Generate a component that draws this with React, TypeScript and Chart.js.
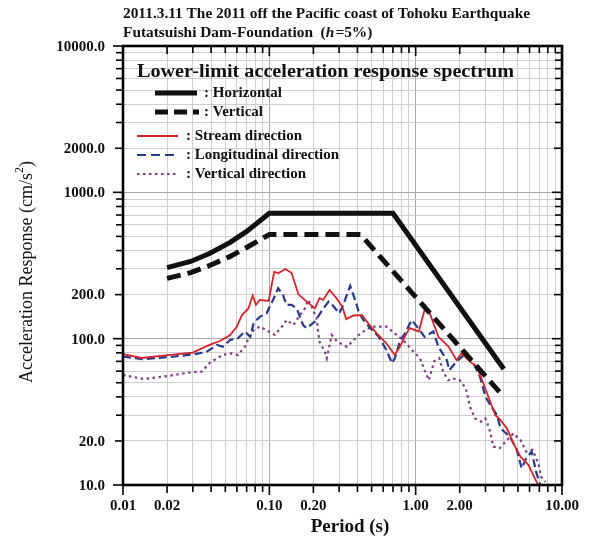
import { useEffect, useRef } from "react";
import { Chart, registerables } from "chart.js";
Chart.register(...registerables);

// ---------- text ----------
const TITLE_LINE1 = "2011.3.11 The 2011 off the Pacific coast of Tohoku Earthquake";
const TITLE_LINE2_A = "Futatsuishi Dam-Foundation  (";
const TITLE_LINE2_H = "h";
const TITLE_LINE2_B = "=5%)";
const LEGEND_TITLE = "Lower-limit acceleration response spectrum";
const X_TITLE = "Period (s)";
const Y_TITLE = "Acceleration Response (cm/s";

// ---------- ticks ----------
const xTickValues = [0.01, 0.02, 0.1, 0.2, 1, 2, 10];
const xTickLabels = ["0.01", "0.02", "0.10", "0.20", "1.00", "2.00", "10.00"];
const yTickValues = [10, 20, 100, 200, 1000, 2000, 10000];
const yTickLabels = ["10.0", "20.0", "100.0", "200.0", "1000.0", "2000.0", "10000.0"];
const xDecades = [0.01, 0.1, 1];
const yDecades = [10, 100, 1000];
const minorSteps = [1, 2, 3, 4, 5, 6, 7, 8, 9];

// ---------- lower-limit spectra ----------
const horizPeriods = [0.02, 0.029, 0.039, 0.054, 0.07, 0.1, 0.7, 4.0];
const horizValues = [306, 337, 382, 455, 541, 720, 720, 62];
const vertPeriods = [0.02, 0.029, 0.039, 0.054, 0.07, 0.1, 0.42, 4.0];
const vertValues = [258, 283, 316, 365, 420, 515, 515, 40];

// ---------- observed spectra ----------
const streamPeriods = [0.01, 0.0134, 0.021, 0.03, 0.039, 0.046, 0.054, 0.06, 0.065, 0.072, 0.077, 0.081, 0.086, 0.099, 0.108, 0.115, 0.129, 0.142, 0.158, 0.18, 0.205, 0.22, 0.233, 0.258, 0.288, 0.315, 0.335, 0.376, 0.43, 0.475, 0.54, 0.63, 0.72, 0.78, 0.85, 0.91, 1.05, 1.17, 1.25, 1.43, 1.55, 1.68, 1.9, 2.06, 2.35, 2.62, 2.9, 3.2, 3.5, 3.7, 4.2, 4.65, 5.2, 5.9, 6.7, 7.0];
const streamValues = [78.5, 73.8, 77.4, 80.2, 90.6, 96.4, 106, 121, 145, 161, 197, 170, 184, 181, 287, 280, 299, 281, 201, 179, 161, 189, 184, 215, 189, 166, 136, 144, 145, 127, 109, 93, 77.4, 88, 105, 118, 112, 167, 149, 103, 95.5, 88, 71.5, 79.4, 69.7, 64.4, 49.6, 38.1, 30, 28.6, 24.4, 19.3, 15.6, 13.7, 10.5, 9.5];

const longPeriods = [0.01, 0.0138, 0.021, 0.03, 0.037, 0.044, 0.048, 0.054, 0.061, 0.068, 0.074, 0.078, 0.086, 0.0957, 0.106, 0.115, 0.124, 0.131, 0.142, 0.154, 0.17, 0.18, 0.205, 0.23, 0.254, 0.27, 0.3, 0.32, 0.357, 0.39, 0.41, 0.44, 0.49, 0.56, 0.63, 0.69, 0.72, 0.78, 0.84, 0.94, 1.07, 1.15, 1.32, 1.43, 1.63, 1.7, 1.9, 2.2, 2.45, 2.75, 3.0, 3.3, 3.6, 3.8, 4.4, 4.9, 5.3, 5.7, 6.2, 6.7, 7.1];
const longValues = [75.3, 72.5, 75, 78, 81, 90.6, 88, 98, 100.6, 112, 103, 127, 141, 149, 184, 221, 199, 170, 170, 161, 124, 118, 131, 157, 179, 170, 149, 170, 230, 178, 150, 134, 118, 103, 83.7, 68, 73.5, 95.5, 108, 134, 114, 103, 112, 88, 71.5, 61, 69.7, 79, 69.7, 55, 40, 34.2, 30, 24.4, 21.4, 17.5, 13, 15.2, 16.9, 12, 10];

const vertDirPeriods = [0.01, 0.0138, 0.021, 0.029, 0.0345, 0.039, 0.044, 0.048, 0.055, 0.061, 0.068, 0.072, 0.078, 0.086, 0.096, 0.109, 0.122, 0.131, 0.146, 0.162, 0.175, 0.184, 0.195, 0.21, 0.22, 0.24, 0.247, 0.267, 0.29, 0.34, 0.42, 0.5, 0.63, 0.74, 0.82, 0.94, 1.07, 1.15, 1.23, 1.34, 1.45, 1.54, 1.67, 1.8, 2.0, 2.2, 2.35, 2.55, 2.8, 3.0, 3.2, 3.4, 3.75, 4.2, 4.65, 5.2, 5.7, 6.3, 6.9, 7.2, 7.7];
const vertDirValues = [56.5, 53, 55.9, 58.9, 59.5, 68, 73.5, 77.4, 79.4, 77.4, 88, 100, 114, 121, 114, 106, 121, 134, 124, 145, 161, 184, 165, 138, 95.5, 81, 73.5, 106, 95.5, 88, 109, 121, 121, 106, 98, 84, 73.5, 61, 52, 70, 73.5, 59.5, 52, 53.5, 52, 45.8, 34.3, 28.5, 27.1, 28.5, 23.8, 18.3, 17.8, 20.3, 22.5, 20.3, 16.9, 17.4, 14, 11.4, 10.5];

// ---------- colours ----------
const RED = "#d3232b";
const BLUE = "#27398a";
const PURPLE = "#7e3f80";
const BLACK = "#111111";

const SERIF = "'Liberation Serif', 'Times New Roman', serif";

const pts = (xs: number[], ys: number[]) => xs.map((x, i) => ({ x, y: ys[i] }));
const isDecade = (v: number) => Math.abs(Math.log10(v) - Math.round(Math.log10(v))) < 1e-6;
const gridOf = (decades: number[], last: number) => {
  const out: number[] = [];
  decades.forEach((d) => minorSteps.forEach((m) => out.push(+(d * m).toPrecision(6))));
  out.push(last);
  return out;
};
const xGrid = gridOf(xDecades, 10);
const yGrid = gridOf(yDecades, 10000);
const isLabeled = (v: number, list: number[]) => list.some((t) => Math.abs(t - v) / t < 1e-6);

function fitText(ctx: CanvasRenderingContext2D, text: string, x: number, y: number, w: number) {
  const m = ctx.measureText(text).width;
  ctx.save();
  ctx.translate(x, y);
  ctx.scale(w / m, 1);
  ctx.fillText(text, 0, 0);
  ctx.restore();
}

const decor = {
  id: "decor",
  afterDraw(chart: any) {
    const ctx: CanvasRenderingContext2D = chart.ctx;
    const { left, right, top, bottom } = chart.chartArea;
    const xs = chart.scales.x;
    const ys = chart.scales.y;
    ctx.save();
    ctx.strokeStyle = "#000";
    ctx.lineWidth = 1.6;
    const line = (a: number, b: number, c: number, d: number) => {
      ctx.beginPath();
      ctx.moveTo(a, b);
      ctx.lineTo(c, d);
      ctx.stroke();
    };
    xGrid.forEach((v) => {
      const px = xs.getPixelForValue(v);
      const L = isDecade(v) ? 10 : isLabeled(v, xTickValues) ? 8 : 7;
      line(px, bottom, px, bottom + L);
      line(px, top, px, top + L);
    });
    yGrid.forEach((v) => {
      const py = ys.getPixelForValue(v);
      const L = isDecade(v) ? 10 : isLabeled(v, yTickValues) ? 8 : 7;
      line(left - L, py, left, py);
      line(right - L, py, right, py);
    });
    ctx.lineWidth = 2.6;
    ctx.strokeRect(left, top, right - left, bottom - top);

    // tick labels
    ctx.fillStyle = "#111";
    ctx.font = `bold 15px ${SERIF}`;
    ctx.textBaseline = "middle";
    ctx.textAlign = "center";
    xTickValues.forEach((v, i) => {
      ctx.fillText(xTickLabels[i], xs.getPixelForValue(v), bottom + 21);
    });
    ctx.textAlign = "right";
    yTickValues.forEach((v, i) => {
      ctx.fillText(yTickLabels[i], left - 18, ys.getPixelForValue(v) + 1);
    });

    // axis titles
    ctx.font = `bold 19px ${SERIF}`;
    ctx.textAlign = "center";
    ctx.fillText(X_TITLE, 350, 527);

    ctx.save();
    ctx.translate(27, 272);
    ctx.rotate(-Math.PI / 2);
    ctx.font = `18px ${SERIF}`;
    const w1 = ctx.measureText(Y_TITLE).width;
    ctx.font = `12px ${SERIF}`;
    const w2 = ctx.measureText("2").width;
    ctx.font = `18px ${SERIF}`;
    const w3 = ctx.measureText(")").width;
    let sx = -(w1 + w2 + w3) / 2;
    ctx.textAlign = "left";
    ctx.fillText(Y_TITLE, sx, 0);
    sx += w1;
    ctx.font = `12px ${SERIF}`;
    ctx.fillText("2", sx, -7);
    sx += w2;
    ctx.font = `18px ${SERIF}`;
    ctx.fillText(")", sx, 0);
    ctx.restore();

    // chart title
    ctx.textAlign = "left";
    ctx.font = `bold 14px ${SERIF}`;
    const t1w = ctx.measureText(TITLE_LINE1).width;
    const k = 407 / t1w;
    fitText(ctx, TITLE_LINE1, 123, 14, 407);
    ctx.save();
    ctx.translate(123, 33);
    ctx.scale(k, 1);
    ctx.font = `bold 14px ${SERIF}`;
    let tx = 0;
    ctx.fillText(TITLE_LINE2_A, tx, 0);
    tx += ctx.measureText(TITLE_LINE2_A).width;
    ctx.font = `italic bold 14px ${SERIF}`;
    ctx.fillText(TITLE_LINE2_H, tx, 0);
    tx += ctx.measureText(TITLE_LINE2_H).width + 1;
    ctx.font = `bold 14px ${SERIF}`;
    ctx.fillText(TITLE_LINE2_B, tx, 0);
    ctx.restore();

    // legend
    ctx.font = `bold 18px ${SERIF}`;
    fitText(ctx, LEGEND_TITLE, 137, 72, 377);
    const entries = [
      { x0: 155, x1: 197, y: 93, tx: 204, color: BLACK, w: 5, dash: [] as number[], text: ": Horizontal" },
      { x0: 155, x1: 199, y: 112, tx: 204, color: BLACK, w: 5, dash: [13, 6], text: ": Vertical" },
      { x0: 137, x1: 178, y: 136, tx: 186, color: RED, w: 2, dash: [] as number[], text: ": Stream direction" },
      { x0: 137, x1: 178, y: 155, tx: 186, color: BLUE, w: 2.2, dash: [9, 5], text: ": Longitudinal direction" },
      { x0: 137, x1: 178, y: 174, tx: 186, color: PURPLE, w: 2.2, dash: [2.5, 3.5], text: ": Vertical direction" },
    ];
    entries.forEach((e) => {
      ctx.strokeStyle = e.color;
      ctx.lineWidth = e.w;
      ctx.setLineDash(e.dash);
      line(e.x0, e.y, e.x1, e.y);
      ctx.setLineDash([]);
      ctx.fillStyle = "#111";
      ctx.font = `bold 15px ${SERIF}`;
      ctx.fillText(e.text, e.tx, e.y);
    });
    ctx.restore();
  },
};

export default function App() {
  const ref = useRef<HTMLCanvasElement | null>(null);
  useEffect(() => {
    document.body.style.margin = "0";
    const canvas = ref.current!;
    const gridColor = (c: any) => (c.tick && isDecade(c.tick.value) ? "#a8a8a8" : "#cfcfcf");
    const chart = new Chart(canvas, {
      type: "line",
      data: {
        datasets: [
          { data: pts(horizPeriods, horizValues), borderColor: BLACK, borderWidth: 5, pointRadius: 0, fill: false },
          { data: pts(vertPeriods, vertValues), borderColor: BLACK, borderWidth: 5, borderDash: [14, 7], pointRadius: 0, fill: false },
          { data: pts(streamPeriods, streamValues), borderColor: RED, borderWidth: 1.8, pointRadius: 0, fill: false },
          { data: pts(longPeriods, longValues), borderColor: BLUE, borderWidth: 2.2, borderDash: [8, 4], pointRadius: 0, fill: false },
          { data: pts(vertDirPeriods, vertDirValues), borderColor: PURPLE, borderWidth: 2.2, borderDash: [2.5, 3.5], pointRadius: 0, fill: false },
        ],
      },
      options: {
        responsive: false,
        animation: false,
        layout: { padding: { top: 46, right: 28, left: 0, bottom: 0 } },
        plugins: { legend: { display: false }, tooltip: { enabled: false }, title: { display: false } },
        elements: { line: { tension: 0 } },
        scales: {
          x: {
            type: "logarithmic",
            min: 0.01,
            max: 10,
            afterBuildTicks: (s: any) => {
              s.ticks = xGrid.map((v) => ({ value: v }));
            },
            afterFit: (s: any) => {
              s.height = 58;
            },
            ticks: { display: false },
            grid: { color: gridColor, lineWidth: 1, drawTicks: false },
            border: { display: false },
          },
          y: {
            type: "logarithmic",
            min: 10,
            max: 10000,
            afterBuildTicks: (s: any) => {
              s.ticks = yGrid.map((v) => ({ value: v }));
            },
            afterFit: (s: any) => {
              s.width = 123;
            },
            ticks: { display: false },
            grid: { color: gridColor, lineWidth: 1, drawTicks: false },
            border: { display: false },
          },
        },
      } as any,
      plugins: [decor],
    });
    return () => chart.destroy();
  }, []);
  return <canvas ref={ref} width={590} height={543} style={{ display: "block" }} />;
}
